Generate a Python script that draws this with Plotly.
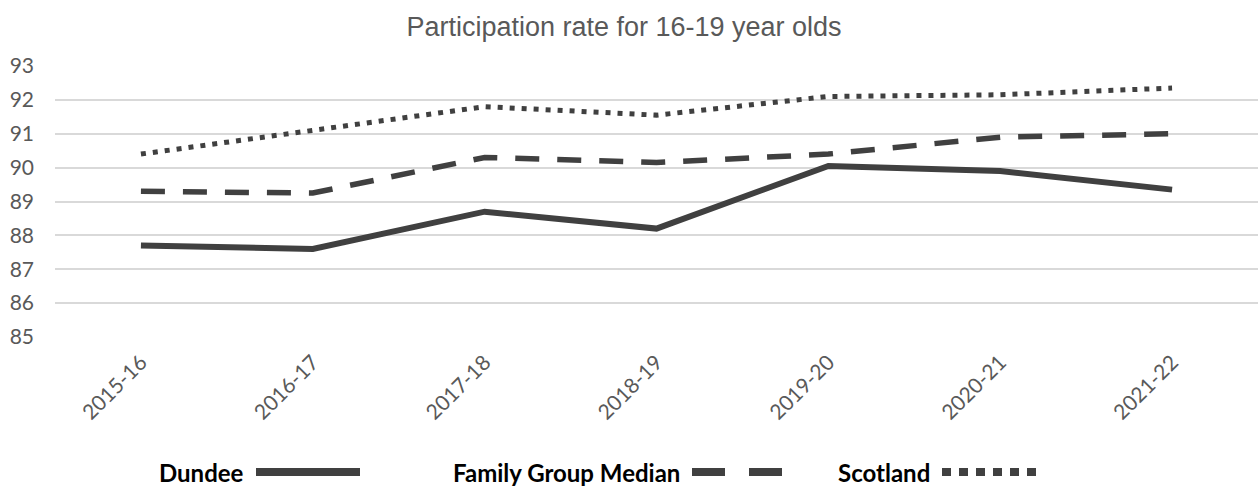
import plotly.graph_objects as go

years = ["2015-16", "2016-17", "2017-18", "2018-19", "2019-20", "2020-21", "2021-22"]
dundee = [87.7, 87.6, 88.7, 88.2, 90.05, 89.9, 89.35]
family_group_median = [89.3, 89.25, 90.3, 90.15, 90.4, 90.9, 91.0]
scotland = [90.4, 91.1, 91.8, 91.55, 92.1, 92.15, 92.35]
y_ticks = [85, 86, 87, 88, 89, 90, 91, 92, 93]

LINE = "#404040"
W, H = 1258, 488
ML, MR, MT, MB = 55, 0, 66, 151

fig = go.Figure()
fig.add_trace(go.Scatter(x=years, y=dundee, mode="lines", name="Dundee",
                         line=dict(color=LINE, width=6)))
fig.add_trace(go.Scatter(x=years, y=family_group_median, mode="lines", name="Family Group Median",
                         line=dict(color=LINE, width=5.5, dash="24px,18px")))
fig.add_trace(go.Scatter(x=years, y=scotland, mode="lines", name="Scotland",
                         line=dict(color=LINE, width=5, dash="5px,7px")))

pw = W - ML - MR
ph = H - MT - MB
def px(x):
    return (x - ML) / pw
def py(y):
    return (H - MB - y) / ph

# manual legend: text followed by the line sample
legend_items = [
    ("Dundee", 246, 256, 360, "solid"),
    ("Family Group Median", 682, 692, 782, "dash"),
    ("Scotland", 932, 942, 1038, "dot"),
]
ly = 472
shapes = []
annotations = []
for name, text_right, l0, l1, style in legend_items:
    annotations.append(dict(text="<b>%s</b>" % name, x=px(text_right), y=py(ly + 1),
                            xref="paper", yref="paper", xanchor="right", yanchor="middle",
                            showarrow=False, font=dict(family="Lato", size=24, color="#000000")))
    if style == "solid":
        dash = "solid"
    elif style == "dash":
        dash = "33px,24px"
    else:
        dash = "9px,8px"
    shapes.append(dict(type="line", xref="paper", yref="paper", x0=px(l0), x1=px(l1),
                       y0=py(ly), y1=py(ly), line=dict(color=LINE, width=8, dash=dash)))

fig.update_layout(
    width=W, height=H,
    margin=dict(l=ML, r=MR, t=MT, b=MB),
    paper_bgcolor="white", plot_bgcolor="white",
    showlegend=False,
    title=dict(text="Participation rate for 16-19 year olds", x=624 / W, xanchor="center",
               y=1 - 27 / H, yanchor="middle",
               font=dict(family="Liberation Sans", size=27, color="#595959")),
    xaxis=dict(type="category", range=[-0.5, 6.5], tickangle=-45, showgrid=False,
               showline=False, zeroline=False, ticks="", ticklabelstandoff=8,
               tickfont=dict(family="Lato", size=21, color="#595959")),
    yaxis=dict(range=[85, 93], tickvals=y_ticks, showgrid=True, gridcolor="#d9d9d9",
               gridwidth=1.5, zeroline=False, showline=False, ticklabelstandoff=20,
               tickfont=dict(family="Lato", size=21, color="#595959")),
    shapes=shapes, annotations=annotations,
)
fig.write_html("out.html", config={"displayModeBar": False},
               post_script="document.body.style.margin='0';document.body.style.overflow='hidden';")
